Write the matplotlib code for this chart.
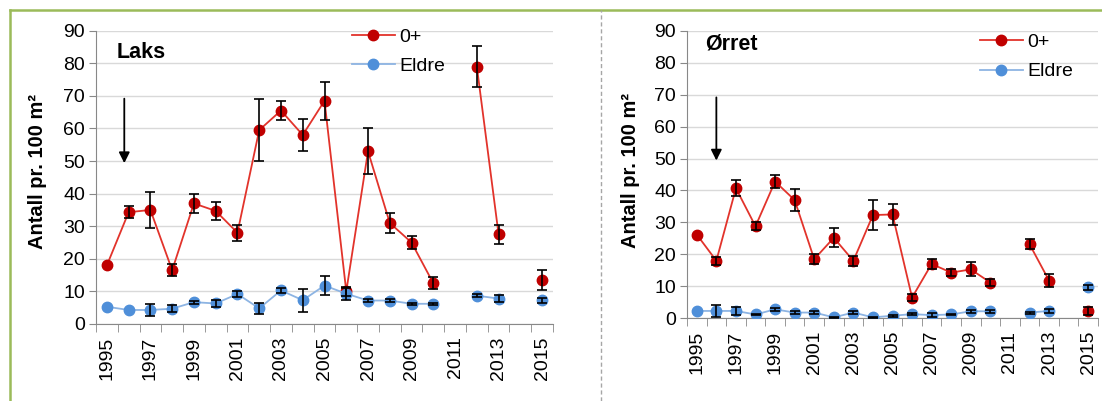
import numpy as np
import matplotlib
matplotlib.use('Agg')
import matplotlib.pyplot as plt
from matplotlib.lines import Line2D

plt.rcParams['font.family'] = ['Liberation Sans', 'DejaVu Sans']

nan = np.nan
years = list(range(1995, 2016))

# Laks (salmon)
laks_0 = [18.0, 34.3, 35.0, 16.5, 37.0, 34.7, 28.0, 59.5, 65.5, 58.0, 68.5,
          10.0, 53.0, 31.0, 25.0, 12.5, nan, 79.0, 27.5, nan, 13.5]
laks_0_err = [0, 1.8, 5.5, 1.8, 3.0, 2.7, 2.5, 9.5, 2.8, 5.0, 5.8,
              1.5, 7.0, 3.0, 2.0, 1.8, nan, 6.3, 3.0, nan, 3.2]
laks_eldre = [5.3, 4.3, 4.3, 4.7, 6.7, 6.3, 9.2, 4.8, 10.3, 7.3, 11.8,
              9.3, 7.2, 7.2, 6.2, 6.2, nan, 8.7, 7.8, nan, 7.3]
laks_eldre_err = [0, 0, 1.7, 1.0, 0.5, 1.2, 0.8, 1.6, 0.8, 3.5, 2.8,
                  1.8, 0.4, 0.4, 0.3, 0.3, nan, 0.4, 1.2, nan, 0.8]

# Ørret (trout)
orret_0 = [26.2, 18.0, 40.7, 28.8, 42.8, 37.0, 18.5, 25.2, 18.0, 32.3, 32.5,
           6.5, 17.0, 14.3, 15.3, 11.2, nan, 23.2, 11.8, nan, 2.3]
orret_0_err = [0, 1.2, 2.5, 1.2, 2.0, 3.5, 1.5, 3.0, 1.6, 4.8, 3.3,
               1.0, 1.6, 1.2, 2.2, 1.2, nan, 1.5, 2.0, nan, 1.2]
orret_eldre = [2.3, 2.3, 2.3, 1.2, 2.8, 1.8, 1.8, 0.3, 1.8, 0.3, 0.8,
               1.3, 1.0, 1.2, 2.2, 2.2, nan, 1.8, 2.3, nan, 9.7]
orret_eldre_err = [0, 2.0, 1.2, 0.3, 0.5, 0.4, 0.5, 0.2, 0.6, 0.2, 0.3,
                   0.3, 0.7, 0.3, 0.4, 0.4, nan, 0.3, 0.5, nan, 0.8]

W, H = 1102, 401
fig = plt.figure(figsize=(W / 100, H / 100), dpi=100)

RED_LINE, RED_MK = '#E2332B', '#C00000'
BLUE_LINE, BLUE_MK = '#8DB4E3', '#4F8FD9'
AXIS_C = '#888888'


def px_axes(l, r, b, t):
    return fig.add_axes([l / W, 1 - b / H, (r - l) / W, (b - t) / H])


def panel(ax, v0, e0, v1, e1, title, title_y, arrow_x, leg_anchor):
    x = np.arange(len(years))
    ax.plot(x, v0, '-o', color=RED_LINE, mfc=RED_MK, mec=RED_MK, ms=7.5, lw=1.3, label='0+', zorder=3)
    ax.plot(x, v1, '-o', color=BLUE_LINE, mfc=BLUE_MK, mec=BLUE_MK, ms=7.5, lw=1.3, label='Eldre', zorder=3)
    for v, e in ((v0, e0), (v1, e1)):
        v = np.array(v)
        e = np.array(e)
        m = np.nan_to_num(e) > 0
        ax.errorbar(x[m], v[m], yerr=e[m], fmt='none', ecolor='k', elinewidth=1.2,
                    capsize=3.8, capthick=1.2, zorder=4)

    ax.set_ylim(0, 90)
    ax.set_xlim(-0.5, len(years) - 0.5)
    ax.set_yticks(range(0, 91, 10))
    ax.yaxis.grid(True, color='#D9D9D9', lw=1)
    ax.set_axisbelow(True)
    ax.set_xticks(x[::2])
    ax.set_xticklabels([str(y) for y in years[::2]], rotation=90)
    ax.set_xticks(np.arange(-0.5, len(years), 1), minor=True)
    ax.tick_params(axis='x', which='major', length=0, pad=9, labelsize=14)
    ax.tick_params(axis='x', which='minor', length=6, color=AXIS_C)
    ax.tick_params(axis='y', length=5, color=AXIS_C, labelsize=14, pad=3)
    for s in ('top', 'right'):
        ax.spines[s].set_visible(False)
    for s in ('left', 'bottom'):
        ax.spines[s].set_color(AXIS_C)

    ax.text(0.045, title_y, title, transform=ax.transAxes, fontsize=15.5,
            fontweight='bold', va='center', ha='left')
    ax.annotate('', xy=(arrow_x, 48.5), xytext=(arrow_x, 70),
                arrowprops=dict(arrowstyle='-|>', color='k', lw=1.3, mutation_scale=16))
    ax.legend(loc='upper left', bbox_to_anchor=leg_anchor, frameon=False, fontsize=14,
              handlelength=2.2, handletextpad=0.25, labelspacing=0.6,
              borderpad=0, borderaxespad=0)


ax1 = px_axes(96, 553, 324, 30.7)
panel(ax1, laks_0, laks_0_err, laks_eldre, laks_eldre_err, 'Laks', 0.925, 0.8, (0.56, 1.008))
ax2 = px_axes(687, 1098, 318.3, 30.7)
panel(ax2, orret_0, orret_0_err, orret_eldre, orret_eldre_err, 'Ørret', 0.953, 1.0, (0.713, 0.99))

ylab = 'Antall pr. 100 m²'
fig.text(38 / W, 1 - 172 / H, ylab, rotation=90, ha='center', va='center',
         fontsize=14.5, fontweight='bold')
fig.text(631 / W, 1 - 170 / H, ylab, rotation=90, ha='center', va='center',
         fontsize=14.5, fontweight='bold')

# frame and divider
GREEN = '#9BBB59'
fig.add_artist(Line2D([10 / W, 10 / W], [0, 1 - 10 / H], color=GREEN, lw=1.8))
fig.add_artist(Line2D([10 / W, 1], [1 - 10 / H, 1 - 10 / H], color=GREEN, lw=1.8))
fig.add_artist(Line2D([601 / W, 601 / W], [0, 1 - 10 / H], color='#A6A6A6', lw=1,
                      ls=(0, (3, 2))))

fig.savefig('out.png', dpi=100)
